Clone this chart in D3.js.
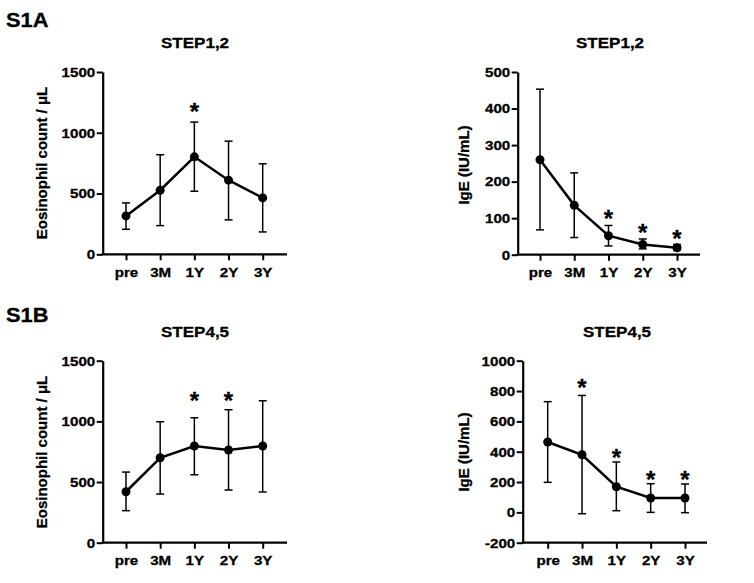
<!DOCTYPE html>
<html>
<head>
<meta charset="utf-8">
<script src="https://cdn.jsdelivr.net/npm/d3@7"></script>
<style>
  html, body { margin: 0; padding: 0; background: #fff; }
  svg { display: block; }
  text { font-family: "Liberation Sans", Arial, sans-serif; font-weight: bold; fill: #000; stroke: #000; stroke-width: 0.3px; }
</style>
</head>
<body>
<svg id="chart" width="754" height="583"></svg>
<script>
// Time points shared by all four panels
const timepoints = ["pre", "3M", "1Y", "2Y", "3Y"];

// S1A left: eosinophils, STEP1,2
const eosA_mean  = [316, 527, 802, 610, 464];
const eosA_upper = [423, 819, 1088, 931, 745];
const eosA_lower = [206, 236, 519, 283, 184];
const eosA_star  = [null, null, 1209, null, null];

// S1A right: IgE, STEP1,2
const igeA_mean  = [260, 135, 52, 28, 19];
const igeA_upper = [453, 224, 80, 43, 28];
const igeA_lower = [68, 47, 24, 16, 12];
const igeA_star  = [null, null, 111, 74, 57];

// S1B left: eosinophils, STEP4,5
const eosB_mean  = [420, 700, 797, 764, 797];
const eosB_upper = [582, 997, 1030, 1096, 1170];
const eosB_lower = [264, 401, 560, 434, 418];
const eosB_star  = [null, null, 1212, 1212, null];

// S1B right: IgE, STEP4,5
const igeB_mean  = [464, 380, 169, 95, 95];
const igeB_upper = [730, 771, 332, 189, 187];
const igeB_lower = [198, -9, 11, 0, -2];
const igeB_star  = [null, 851, 389, 246, 246];

// Tick labels
const eosTicks  = [0, 500, 1000, 1500];
const igeATicks = [0, 100, 200, 300, 400, 500];
const igeBTicks = [-200, 0, 200, 400, 600, 800, 1000];

const panels = [
  { title: "STEP1,2", ylabel: "Eosinophil count / \u03bcL", mean: eosA_mean, upper: eosA_upper, lower: eosA_lower, star: eosA_star,
    ticks: eosTicks, domain: [0, 1500], axisX: 102.7, axisEnd: 287, xFirst: 126, xLast: 262.7, yTop: 72, yBot: 254.3,
    titleX: 195, titleY: 48, labelX: 42, labelY: 163 },
  { title: "STEP1,2", ylabel: "IgE (IU/mL)", mean: igeA_mean, upper: igeA_upper, lower: igeA_lower, star: igeA_star,
    ticks: igeATicks, domain: [0, 500], axisX: 517.7, axisEnd: 700, xFirst: 540, xLast: 677, yTop: 72, yBot: 254.7,
    titleX: 610, titleY: 48, labelX: 464, labelY: 165 },
  { title: "STEP4,5", ylabel: "Eosinophil count / \u03bcL", mean: eosB_mean, upper: eosB_upper, lower: eosB_lower, star: eosB_star,
    ticks: eosTicks, domain: [0, 1500], axisX: 102.7, axisEnd: 287, xFirst: 126, xLast: 262.7, yTop: 360.7, yBot: 542.7,
    titleX: 195, titleY: 337, labelX: 42, labelY: 452 },
  { title: "STEP4,5", ylabel: "IgE (IU/mL)", mean: igeB_mean, upper: igeB_upper, lower: igeB_lower, star: igeB_star,
    ticks: igeBTicks, domain: [-200, 1000], axisX: 522.7, axisEnd: 707, xFirst: 547.7, xLast: 685, yTop: 360.7, yBot: 542.7,
    titleX: 617, titleY: 337, labelX: 464, labelY: 452 }
];

const svg = d3.select("#chart");

// Horizontal text in the original is a bit wide, so stretch it slightly
function wide(sel, x, y, sx) {
  return sel.attr("transform", `translate(${x},${y}) scale(${sx},1)`);
}

// Figure labels
wide(svg.append("text"), 6, 27, 1.12).style("font-size", "19.5px").text("S1A");
wide(svg.append("text"), 6, 322, 1.12).style("font-size", "19.5px").text("S1B");

panels.forEach(p => {
  const x = d3.scalePoint().domain(timepoints).range([p.xFirst, p.xLast]);
  const y = d3.scaleLinear().domain(p.domain).range([p.yBot, p.yTop]);
  const g = svg.append("g");

  // Title
  wide(g.append("text"), p.titleX, p.titleY, 1.1).attr("text-anchor", "middle")
    .style("font-size", "15.5px").text(p.title);

  // Y label
  g.append("text").attr("transform", `translate(${p.labelX},${p.labelY}) rotate(-90)`)
    .attr("text-anchor", "middle").attr("dy", "0.35em")
    .style("font-size", "15px").text(p.ylabel);

  // Y axis
  const yAxis = g.append("g").attr("transform", `translate(${p.axisX},0)`)
    .call(d3.axisLeft(y).tickValues(p.ticks).tickFormat(d => String(d))
      .tickSize(6).tickSizeOuter(0).tickPadding(1.5));
  yAxis.select(".domain").attr("stroke-width", 2.2);
  yAxis.selectAll(".tick line").attr("stroke-width", 2);
  yAxis.selectAll(".tick text").style("font-size", "13.5px")
    .attr("transform", "scale(1.12,1)")
    .attr("x", -7.5 / 1.12);

  // X axis (line from y axis to the right end)
  const xAxis = g.append("g").attr("transform", `translate(0,${p.yBot})`)
    .call(d3.axisBottom(x).tickSize(6).tickSizeOuter(0).tickPadding(7));
  xAxis.select(".domain").attr("d", `M${p.axisX - 1},0H${p.axisEnd}`).attr("stroke-width", 2.2);
  xAxis.selectAll(".tick line").attr("stroke-width", 2);
  xAxis.selectAll(".tick text").style("font-size", "13.5px").attr("transform", "scale(1.12,1)");

  const rows = timepoints.map((t, i) => ({ t, m: p.mean[i], hi: p.upper[i], lo: p.lower[i], s: p.star[i] }));

  // Error bars
  const eb = g.append("g").attr("stroke", "#000").attr("stroke-width", 1.5);
  eb.selectAll(".v").data(rows).join("line")
    .attr("x1", d => x(d.t)).attr("x2", d => x(d.t))
    .attr("y1", d => y(d.hi)).attr("y2", d => y(d.lo));
  eb.selectAll(".capHi").data(rows).join("line").attr("class", "capHi")
    .attr("x1", d => x(d.t) - 4).attr("x2", d => x(d.t) + 4)
    .attr("y1", d => y(d.hi)).attr("y2", d => y(d.hi));
  eb.selectAll(".capLo").data(rows).join("line").attr("class", "capLo")
    .attr("x1", d => x(d.t) - 4).attr("x2", d => x(d.t) + 4)
    .attr("y1", d => y(d.lo)).attr("y2", d => y(d.lo));

  // Mean line
  g.append("path").datum(rows)
    .attr("fill", "none").attr("stroke", "#000").attr("stroke-width", 2.5)
    .attr("d", d3.line().x(d => x(d.t)).y(d => y(d.m)));

  // Points
  g.selectAll("circle").data(rows).join("circle")
    .attr("cx", d => x(d.t)).attr("cy", d => y(d.m)).attr("r", 4.5).attr("fill", "#000");

  // Significance stars
  g.selectAll(".star").data(rows.filter(d => d.s !== null)).join("text").attr("class", "star")
    .attr("x", d => x(d.t)).attr("y", d => y(d.s) + 13).attr("text-anchor", "middle")
    .style("font-size", "24px").text("*");
});
</script>
</body>
</html>
